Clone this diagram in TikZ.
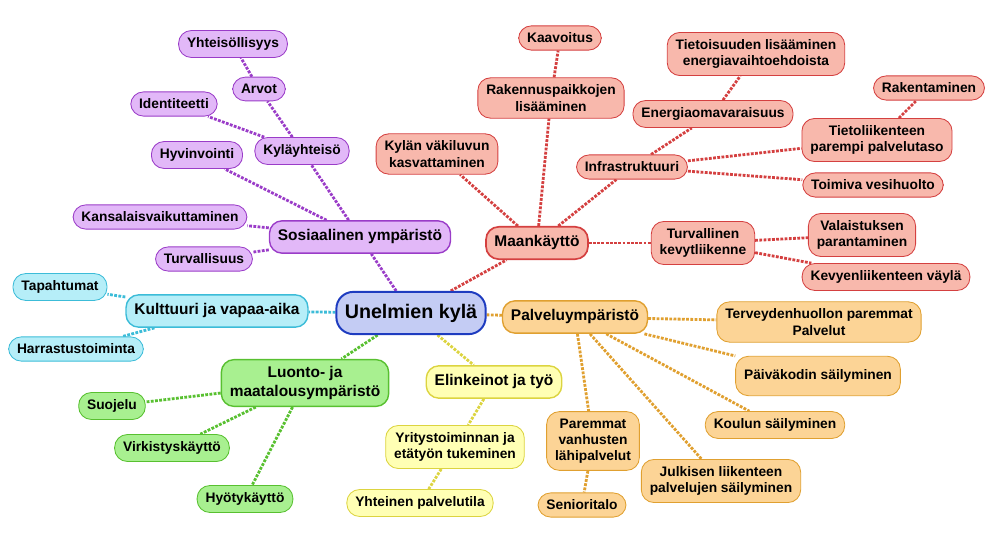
\documentclass[tikz,border=0pt]{standalone}
\usepackage{fontspec}
\setmainfont{Liberation Sans}
\usetikzlibrary{backgrounds}
\definecolor{purpleF}{HTML}{E2B8F8}\definecolor{purpleD}{HTML}{9A3CC8}
\definecolor{cyanF}{HTML}{B6EEF8}\definecolor{cyanD}{HTML}{3CBCD8}
\definecolor{greenF}{HTML}{A8F090}\definecolor{greenD}{HTML}{58C030}
\definecolor{yellowF}{HTML}{FFFFB4}\definecolor{yellowD}{HTML}{DCD440}
\definecolor{orangeF}{HTML}{FCD496}\definecolor{orangeD}{HTML}{E0A030}
\definecolor{redF}{HTML}{F8B8AC}\definecolor{redD}{HTML}{D44040}
\definecolor{blueF}{HTML}{C4CCF4}\definecolor{blueD}{HTML}{1E3CC0}
\begin{document}
\begin{tikzpicture}[x=0.025cm,y=-0.025cm,
    every node/.style={align=center, font=\bfseries\fontsize{9.8}{11.5}\selectfont, rounded corners=9pt, inner xsep=6pt, inner ysep=5pt, line width=0.6pt},
    purp/.style={draw=purpleD, fill=purpleF},
    cyn/.style={draw=cyanD, fill=cyanF},
    grn/.style={draw=greenD, fill=greenF},
    yel/.style={draw=yellowD, fill=yellowF},
    orn/.style={draw=orangeD, fill=orangeF},
    rd/.style={draw=redD, fill=redF},
    main/.style={font=\bfseries\fontsize{11}{13}\selectfont, minimum height=23pt, line width=1pt},
    link/.style={draw, densely dotted, line width=2pt},
    ]
\useasboundingbox (0,0) rectangle (994,537);
\node[draw=blueD, fill=blueF, line width=1.4pt, rounded corners=12pt, minimum width=105pt, minimum height=30pt, font=\bfseries\fontsize{14}{16}\selectfont] (Root) at (411,313) {Unelmien kylä};
% sosiaalinen
\node[purp, main] (Sos) at (360,237) {Sosiaalinen ympäristö};
\node[purp] (Kyla) at (302,151) {Kyläyhteisö};
\node[purp] (Arvot) at (259,89) {Arvot};
\node[purp] (Yht) at (233,44) {Yhteisöllisyys};
\node[purp] (Ident) at (174,104) {Identiteetti};
\node[purp] (Hyv) at (197,155) {Hyvinvointi};
\node[purp] (Kans) at (160,217) {Kansalaisvaikuttaminen};
\node[purp] (Turv) at (204,259) {Turvallisuus};
% kulttuuri
\node[cyn, main] (Kult) at (217,311) {Kulttuuri ja vapaa-aika};
\node[cyn] (Tap) at (60,287) {Tapahtumat};
\node[cyn] (Harr) at (76,349) {Harrastustoiminta};
% luonto
\node[grn, main] (Luonto) at (305,383) {Luonto- ja\\maatalousympäristö};
\node[grn] (Suoj) at (112,406) {Suojelu};
\node[grn] (Virk) at (172,448) {Virkistyskäyttö};
\node[grn] (Hyot) at (245,499) {Hyötykäyttö};
% elinkeinot
\node[yel, main] (Elin) at (494,382) {Elinkeinot ja työ};
\node[yel] (Yrit) at (455,447) {Yritystoiminnan ja\\etätyön tukeminen};
\node[yel] (Palvt) at (420,503) {Yhteinen palvelutila};
% palvelut
\node[orn, main] (Palv) at (575,317) {Palveluympäristö};
\node[orn] (Terv) at (819,322) {Terveydenhuollon paremmat\\Palvelut};
\node[orn, minimum width=115pt, minimum height=28pt] (Paiv) at (818,376) {Päiväkodin säilyminen};
\node[orn] (Koul) at (775,425) {Koulun säilyminen};
\node[orn] (Julk) at (721,481) {Julkisen liikenteen\\palvelujen säilyminen};
\node[orn] (Van) at (593,441) {Paremmat\\vanhusten\\lähipalvelut};
\node[orn] (Sen) at (582,505) {Senioritalo};
% maankaytto
\node[rd, main, line width=1.2pt] (Maan) at (537,243) {Maankäyttö};
\node[rd] (Vaki) at (437,154) {Kylän väkiluvun\\kasvattaminen};
\node[rd] (Rak) at (551,98) {Rakennuspaikkojen\\lisääminen};
\node[rd] (Kaav) at (560,38) {Kaavoitus};
\node[rd] (Infra) at (632,167) {Infrastruktuuri};
\node[rd] (Ener) at (713,114) {Energiaomavaraisuus};
\node[rd] (Tiet) at (756,54) {Tietoisuuden lisääminen\\energiavaihtoehdoista};
\node[rd] (Tliik) at (877,140) {Tietoliikenteen\\parempi palvelutaso};
\node[rd] (Rakt) at (929,88) {Rakentaminen};
\node[rd] (Vesi) at (873,185) {Toimiva vesihuolto};
\node[rd] (Kevy) at (703,243) {Turvallinen\\kevytliikenne};
\node[rd] (Vala) at (862,235) {Valaistuksen\\parantaminen};
\node[rd] (Vayl) at (886,277) {Kevyenliikenteen väylä};
\begin{scope}[on background layer]
\draw[link, purpleD] (Root) -- (Sos);
\foreach \n in {Kyla,Hyv,Kans,Turv} \draw[link, purpleD] (Sos) -- (\n);
\draw[link, purpleD] (Kyla) -- (Arvot) -- (Yht);
\draw[link, purpleD] (Kyla) -- (Ident);
\draw[link, cyanD] (Root) -- (Kult);
\foreach \n in {Tap,Harr} \draw[link, cyanD] (Kult) -- (\n);
\draw[link, greenD] (Root) -- (Luonto);
\foreach \n in {Suoj,Virk,Hyot} \draw[link, greenD] (Luonto) -- (\n);
\draw[link, yellowD] (Root) -- (Elin);
\draw[link, yellowD] (Elin) -- (Yrit) -- (Palvt);
\draw[link, orangeD] (Root) -- (Palv);
\foreach \n in {Terv,Paiv,Koul,Julk,Van} \draw[link, orangeD] (Palv) -- (\n);
\draw[link, orangeD] (Van) -- (Sen);
\draw[link, redD] (Root) -- (Maan);
\foreach \n in {Vaki,Rak,Infra,Kevy} \draw[link, redD] (Maan) -- (\n);
\draw[link, redD] (Rak) -- (Kaav);
\foreach \n in {Ener,Tliik,Vesi} \draw[link, redD] (Infra) -- (\n);
\draw[link, redD] (Ener) -- (Tiet);
\draw[link, redD] (Tliik) -- (Rakt);
\foreach \n in {Vala,Vayl} \draw[link, redD] (Kevy) -- (\n);
\end{scope}
\end{tikzpicture}
\end{document}
